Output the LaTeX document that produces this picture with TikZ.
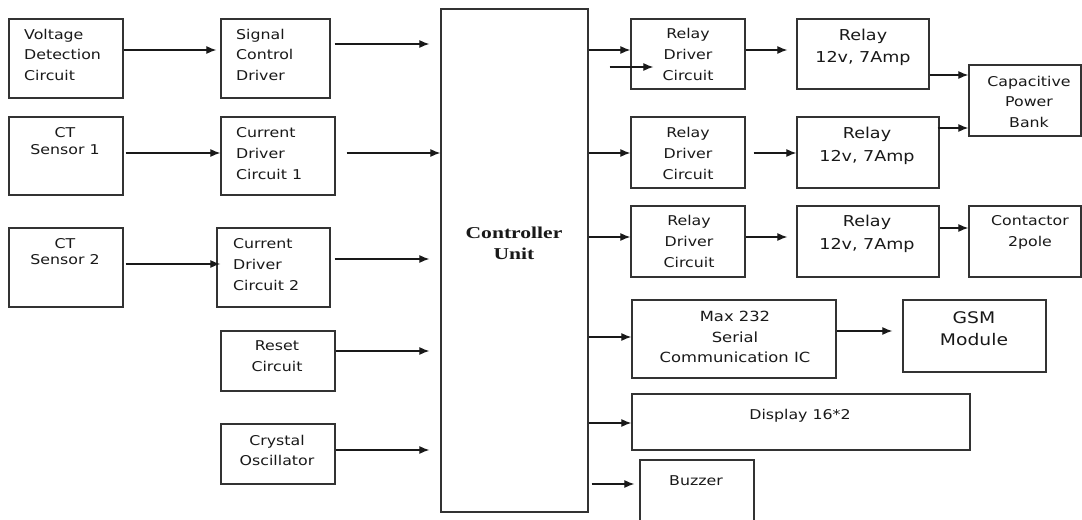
\documentclass[tikz,border=0pt]{standalone}
\usepackage{fontspec}
\newfontfamily\labfont[FakeStretch=1.17]{DejaVu Sans}
\newfontfamily\ctlfont[FakeStretch=1.3]{Liberation Serif}
\usetikzlibrary{arrows.meta,calc,fit}
\begin{document}
\begin{tikzpicture}[x=1bp,y=-1bp,
 blk/.style={draw=black!80, line width=1.4bp, inner sep=0pt},
 txt/.style={inner sep=0pt, align=center, anchor=north, text=black!90, yshift=-3bp,
   font=\labfont\fontsize{13.5bp}{20.5bp}\selectfont,
   execute at begin node={\rule{0pt}{14bp}}},
 ltxt/.style={txt, align=left, anchor=north west},
 arr/.style={line width=1.1bp, draw=black!90, -{Latex[length=10bp,width=8bp]}}]
\useasboundingbox[fill=white] (0,0) rectangle (1082,520);

% boxes
\node[blk, fit={(9,19) (123,98)}] (vdc) {};
\node[blk, fit={(221,19) (330,98)}] (scd) {};
\node[blk, fit={(9,117) (123,195)}] (ct1) {};
\node[blk, fit={(221,117) (335,195)}] (cd1) {};
\node[blk, fit={(9,228) (123,307)}] (ct2) {};
\node[blk, fit={(217,228) (330,307)}] (cd2) {};
\node[blk, fit={(221,331) (335,391)}] (rst) {};
\node[blk, fit={(221,424) (335,484)}] (xtal) {};
\node[blk, fit={(441,9) (588,512)}] (ctrl) {};
\node[blk, fit={(631,19) (745,89)}] (rd1) {};
\node[blk, fit={(797,19) (929,89)}] (rl1) {};
\node[blk, fit={(969,65) (1081,136)}] (cpb) {};
\node[blk, fit={(631,117) (745,188)}] (rd2) {};
\node[blk, fit={(797,117) (939,188)}] (rl2) {};
\node[blk, fit={(631,206) (745,277)}] (rd3) {};
\node[blk, fit={(797,206) (939,277)}] (rl3) {};
\node[blk, fit={(969,206) (1081,277)}] (con) {};
\node[blk, fit={(632,300) (836,378)}] (max) {};
\node[blk, fit={(903,300) (1046,372)}] (gsm) {};
\node[blk, fit={(632,394) (970,450)}] (disp) {};
\node[blk, fit={(640,460) (754,526)}] (buz) {};

% texts
\node[ltxt] (t-vdc) at (24,26) {Voltage\\Detection\\Circuit};
\node[ltxt] (t-scd) at (236,26) {Signal\\Control\\Driver};
\node[txt, font=\labfont\fontsize{13.5bp}{17bp}\selectfont] (t-ct1) at (65,124) {CT\\Sensor 1};
\node[ltxt, font=\labfont\fontsize{13.5bp}{21bp}\selectfont] (t-cd1) at (236,124) {Current\\Driver\\Circuit 1};
\node[txt, font=\labfont\fontsize{13.5bp}{16.5bp}\selectfont] (t-ct2) at (65,235) {CT\\Sensor 2};
\node[ltxt, font=\labfont\fontsize{13.5bp}{21bp}\selectfont] (t-cd2) at (233,235) {Current\\Driver\\Circuit 2};
\node[txt, font=\labfont\fontsize{13.5bp}{21bp}\selectfont] (t-rst) at (277,337) {Reset\\Circuit};
\node[txt, font=\labfont\fontsize{13.5bp}{20bp}\selectfont] (t-xtal) at (277,432) {Crystal\\Oscillator};
\node[txt, font=\ctlfont\bfseries\fontsize{16.6bp}{21bp}\selectfont] (t-ctrl) at (514,224) {Controller\\Unit};
\node[txt, font=\labfont\fontsize{13.5bp}{21bp}\selectfont] (t-rd1) at (688,25) {Relay\\Driver\\Circuit};
\node[txt, font=\labfont\fontsize{15bp}{22bp}\selectfont] (t-rl1) at (863,26) {Relay\\12v, 7Amp};
\node[txt] (t-cpb) at (1029,73) {Capacitive\\Power\\Bank};
\node[txt, font=\labfont\fontsize{13.5bp}{21bp}\selectfont] (t-rd2) at (688,124) {Relay\\Driver\\Circuit};
\node[txt, font=\labfont\fontsize{15bp}{23bp}\selectfont] (t-rl2) at (867,124) {Relay\\12v, 7Amp};
\node[txt, font=\labfont\fontsize{13.5bp}{21bp}\selectfont] (t-rd3) at (689,212) {Relay\\Driver\\Circuit};
\node[txt, font=\labfont\fontsize{15bp}{23bp}\selectfont] (t-rl3) at (867,212) {Relay\\12v, 7Amp};
\node[txt, font=\labfont\fontsize{13.5bp}{21bp}\selectfont] (t-con) at (1030,212) {Contactor\\2pole};
\node[txt, font=\labfont\fontsize{14bp}{20.5bp}\selectfont] (t-max) at (735,308) {Max 232\\Serial\\Communication IC};
\node[txt, font=\labfont\fontsize{16bp}{22bp}\selectfont] (t-gsm) at (974,308) {GSM\\Module};
\node[txt] (t-disp) at (800,402) {Display 16*2};
\node[txt] (t-buz) at (696,468) {Buzzer};

% arrows, left side
\draw[arr] (vdc.east|-0,50) -- ($(scd.west|-0,50)+(-4,0)$);
\draw[arr] ($(scd.east|-0,44)+(4,0)$) -- ($(ctrl.west|-0,44)+(-11,0)$);
\draw[arr] ($(ct1.east|-0,153)+(2,0)$) -- (cd1.west|-0,153);
\draw[arr] ($(cd1.east|-0,153)+(11,0)$) -- (ctrl.west|-0,153);
\draw[arr] ($(ct2.east|-0,264)+(2,0)$) -- ($(cd2.west|-0,264)+(4,0)$);
\draw[arr] ($(cd2.east|-0,259)+(4,0)$) -- ($(ctrl.west|-0,259)+(-11,0)$);
\draw[arr] (rst.east|-0,351) -- ($(ctrl.west|-0,351)+(-11,0)$);
\draw[arr] (xtal.east|-0,450) -- ($(ctrl.west|-0,450)+(-11,0)$);

% arrows, right side
\draw[arr] (ctrl.east|-0,50) -- (rd1.west|-0,50);
\draw[arr] ($(ctrl.east|-0,67)+(21,0)$) -- ($(rd1.west|-0,67)+(23,0)$);
\draw[arr] (rd1.east|-0,50) -- ($(rl1.west|-0,50)+(-9,0)$);
\draw[arr] (rl1.east|-0,75) -- (cpb.west|-0,75);
\draw[arr] (ctrl.east|-0,153) -- (rd2.west|-0,153);
\draw[arr] ($(rd2.east|-0,153)+(8,0)$) -- (rl2.west|-0,153);
\draw[arr] ($(rl2.east|-0,128)+(-2,0)$) -- (cpb.west|-0,128);
\draw[arr] (ctrl.east|-0,237) -- (rd3.west|-0,237);
\draw[arr] (rd3.east|-0,237) -- ($(rl3.west|-0,237)+(-9,0)$);
\draw[arr] (rl3.east|-0,228) -- (con.west|-0,228);
\draw[arr] (ctrl.east|-0,337) -- (max.west|-0,337);
\draw[arr] (max.east|-0,331) -- ($(gsm.west|-0,331)+(-10,0)$);
\draw[arr] (ctrl.east|-0,423) -- (disp.west|-0,423);
\draw[arr] ($(ctrl.east|-0,484)+(3,0)$) -- ($(buz.west|-0,484)+(-5,0)$);
\end{tikzpicture}
\end{document}
